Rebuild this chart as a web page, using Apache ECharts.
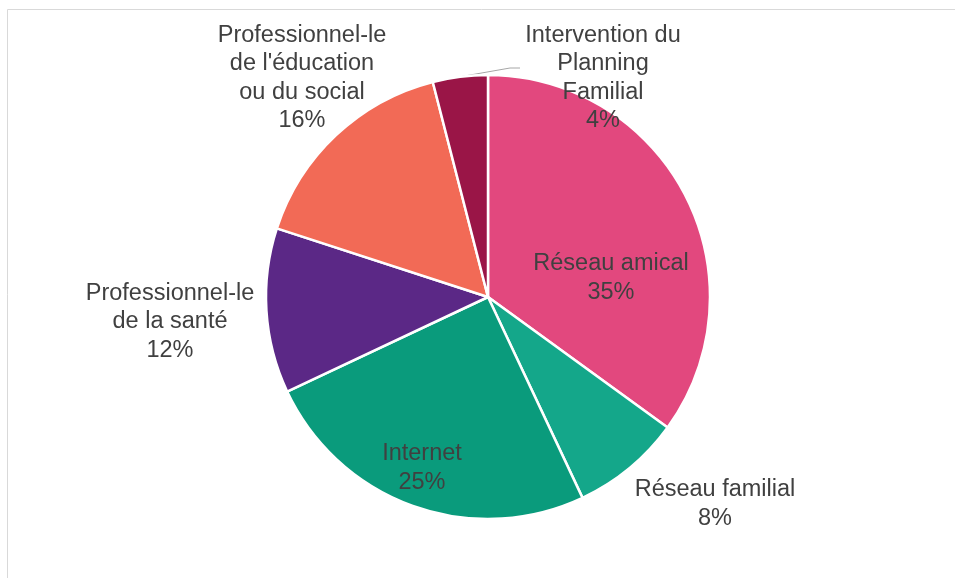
<!DOCTYPE html>
<html>
<head>
<meta charset="utf-8">
<script src="https://cdn.jsdelivr.net/npm/echarts@6/dist/echarts.min.js"></script>
<style>
  html, body { margin: 0; padding: 0; background: #fff; }
  #chart { width: 955px; height: 578px; }
</style>
</head>
<body>
<div id="chart"></div>
<script>
// Sources d'information, en pourcentage des réponses
const categories = [
  "Réseau amical",
  "Réseau familial",
  "Internet",
  "Professionnel-le de la santé",
  "Professionnel-le de l'éducation ou du social",
  "Intervention du Planning Familial"
];
const values = [35, 8, 25, 12, 16, 4];
const labelLines = [
  "Réseau amical",
  "Réseau familial",
  "Internet",
  "Professionnel-le\nde la santé",
  "Professionnel-le\nde l'éducation\nou du social",
  "Intervention du\nPlanning\nFamilial"
];
const colors = ["#E2487E", "#14A78A", "#0A9B7C", "#5B2886", "#F26A56", "#9A1547"];

// Where each label block sits (centre of the text block)
const labelSpots = [
  { x: 611, y: 278 },
  { x: 715, y: 504 },
  { x: 422, y: 468 },
  { x: 170, y: 322 },
  { x: 302, y: 78 },
  { x: 603, y: 78 }
];
const insideLabel = [true, false, true, false, false, false];

const CENTER = [488, 297];
const RADIUS = 222;

const chart = echarts.init(document.getElementById('chart'), null, { renderer: 'canvas' });

const pieData = categories.map((name, i) => ({
  name: name,
  value: values[i],
  itemStyle: { color: colors[i] },
  label: { position: insideLabel[i] ? 'inside' : 'outside' },
  labelLine: { show: i === 5 }
}));

// Edge point at the middle of a slice, clockwise from 12 o'clock
function sliceEdgeMid(idx) {
  const total = values.reduce((a, b) => a + b, 0);
  let before = 0;
  for (let k = 0; k < idx; k++) before += values[k];
  const frac = (before + values[idx] / 2) / total;
  const a = frac * Math.PI * 2;
  return [CENTER[0] + RADIUS * Math.sin(a), CENTER[1] - RADIUS * Math.cos(a)];
}

chart.setOption({
  animation: false,
  graphic: [{
    type: 'rect',
    shape: { x: 7.5, y: 9.5, width: 1000, height: 1000 },
    style: { fill: 'none', stroke: '#d9d9d9', lineWidth: 1 },
    silent: true,
    z: -1
  }],
  series: [{
    type: 'pie',
    center: CENTER,
    radius: RADIUS,
    startAngle: 90,
    clockwise: true,
    data: pieData,
    itemStyle: { borderColor: '#ffffff', borderWidth: 2.5 },
    label: {
      show: true,
      formatter: p => labelLines[p.dataIndex] + '\n' + p.value + '%',
      fontFamily: 'Liberation Sans, Arial, sans-serif',
      fontSize: 23.5,
      lineHeight: 28.5,
      color: '#404040',
      align: 'center'
    },
    labelLine: {
      lineStyle: { color: '#a6a6a6', width: 1 },
      length: 10,
      length2: 10
    },
    labelLayout: function (params) {
      const s = labelSpots[params.dataIndex];
      const out = { x: s.x, y: s.y, align: 'center', verticalAlign: 'middle' };
      if (params.dataIndex === 5) {
        out.labelLinePoints = [sliceEdgeMid(5), [510, 68], [520, 68]];
      }
      return out;
    }
  }]
});
</script>
</body>
</html>
